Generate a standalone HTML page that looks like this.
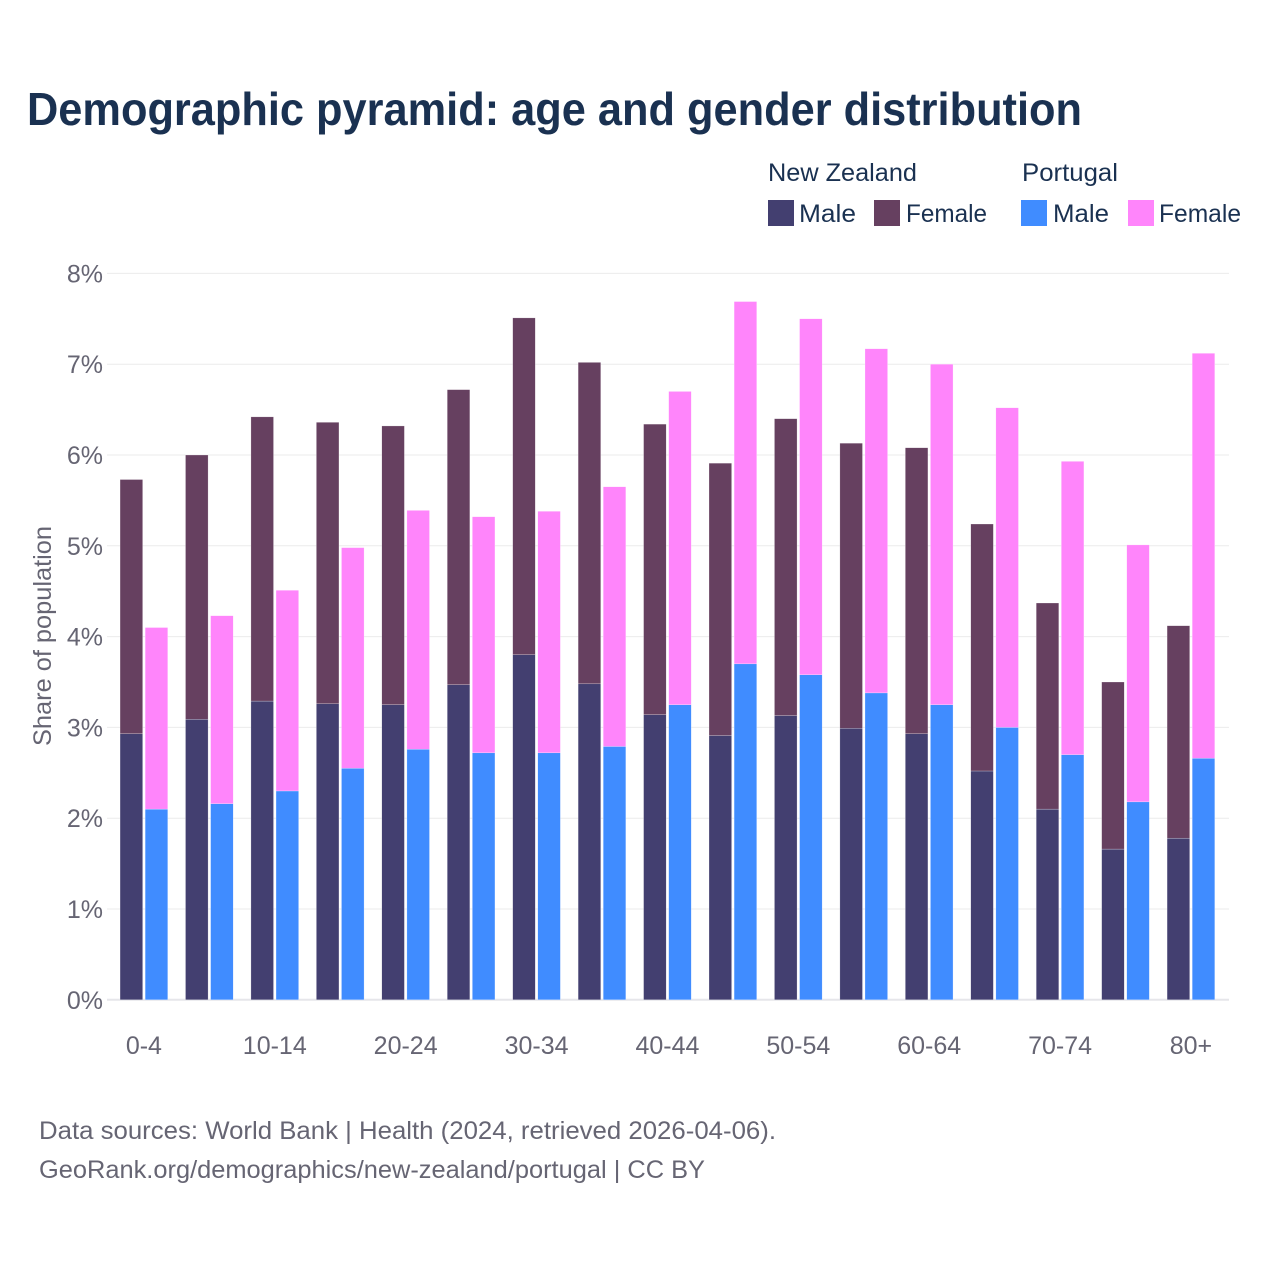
<!DOCTYPE html>
<html>
<head>
<meta charset="utf-8">
<title>Demographic pyramid: age and gender distribution</title>
<style>
html,body{margin:0;padding:0;background:#fff;width:1280px;height:1280px;overflow:hidden}
svg{display:block}
text{font-family:"Liberation Sans",sans-serif}
</style>
</head>
<body>
<svg id="chart" xmlns="http://www.w3.org/2000/svg" width="1280" height="1280" viewBox="0 0 1280 1280">
  <rect x="0" y="0" width="1280" height="1280" fill="#fff"/>
  <text x="27" y="125" font-size="46" font-weight="700" fill="#1a3151" textLength="1055" lengthAdjust="spacingAndGlyphs">Demographic pyramid: age and gender distribution</text>

  <g>
    <text x="768" y="181" font-size="25" fill="#1a3151" textLength="149" lengthAdjust="spacingAndGlyphs">New Zealand</text>
    <text x="1022" y="181" font-size="25" fill="#1a3151" textLength="96" lengthAdjust="spacingAndGlyphs">Portugal</text>
    <rect x="768" y="200" width="26" height="26" fill="#433f70"/>
    <text x="799" y="222" font-size="25" fill="#1a3151" textLength="57" lengthAdjust="spacingAndGlyphs">Male</text>
    <rect x="874" y="200" width="26" height="26" fill="#664060"/>
    <text x="906" y="222" font-size="25" fill="#1a3151" textLength="81" lengthAdjust="spacingAndGlyphs">Female</text>
    <rect x="1021" y="200" width="26" height="26" fill="#408cff"/>
    <text x="1053" y="222" font-size="25" fill="#1a3151" textLength="56" lengthAdjust="spacingAndGlyphs">Male</text>
    <rect x="1128" y="200" width="26" height="26" fill="#ff85fb"/>
    <text x="1159" y="222" font-size="25" fill="#1a3151" textLength="82" lengthAdjust="spacingAndGlyphs">Female</text>
  </g>

  <g id="grid"></g>
  <g id="yticks"></g>
  <g id="bars"></g>
  <g id="xticks"></g>

  <text transform="translate(51,746) rotate(-90)" x="0" y="0" font-size="25" fill="#666573" textLength="220" lengthAdjust="spacingAndGlyphs">Share of population</text>

  <text x="39" y="1139" font-size="25" fill="#666573" textLength="737" lengthAdjust="spacingAndGlyphs">Data sources: World Bank | Health (2024, retrieved 2026-04-06).</text>
  <text x="39" y="1178" font-size="25" fill="#666573" textLength="666" lengthAdjust="spacingAndGlyphs">GeoRank.org/demographics/new-zealand/portugal | CC BY</text>
</svg>
<script>
const categories = ["0-4","5-9","10-14","15-19","20-24","25-29","30-34","35-39","40-44","45-49","50-54","55-59","60-64","65-69","70-74","75-79","80+"];
const yTickValues = [0,1,2,3,4,5,6,7,8];
const nzMale = [2.93,3.09,3.29,3.26,3.25,3.47,3.80,3.48,3.14,2.91,3.13,2.99,2.93,2.52,2.10,1.66,1.78];
const nzFemale = [2.80,2.91,3.13,3.10,3.07,3.25,3.71,3.54,3.20,3.00,3.27,3.14,3.15,2.72,2.27,1.84,2.34];
const ptMale = [2.10,2.16,2.30,2.55,2.76,2.72,2.72,2.79,3.25,3.70,3.58,3.38,3.25,3.00,2.70,2.18,2.66];
const ptFemale = [2.00,2.07,2.21,2.43,2.63,2.60,2.66,2.86,3.45,3.99,3.92,3.79,3.75,3.52,3.23,2.83,4.46];

const NS = "http://www.w3.org/2000/svg";
const Y0 = 999.8, PX_PER_UNIT = 90.8;
const FIRST_CENTER = 143.9, BAND = 65.44, BAR_W = 22.6, BAR_GAP = 2.5;
const y = v => Y0 - v * PX_PER_UNIT;
const xCenter = i => FIRST_CENTER + i * BAND;

function make(tag, attrs, parent) {
  const el = document.createElementNS(NS, tag);
  for (const k in attrs) el.setAttribute(k, attrs[k]);
  parent.appendChild(el);
  return el;
}

const gridG = document.getElementById("grid");
const yTicksG = document.getElementById("yticks");
yTickValues.forEach(v => {
  const line = make("line", {x1:107, x2:1229, y1:y(v), y2:y(v), stroke: v === 0 ? "#e6e6ea" : "#ebebeb", "stroke-width": v === 0 ? 2 : 1}, gridG);
  
  
  const t = make("text", {x:103, y:y(v) + 9, "font-size":25, fill:"#666573", "text-anchor":"end"}, yTicksG);
  
  
  t.textContent = v + "%";
});

const barsG = document.getElementById("bars");
function drawBar(x, base, value, fill, name) {
  const r = make("rect", {x:x, y:y(base + value), width:BAR_W, height:value * PX_PER_UNIT, fill:fill, stroke:"#ffffff", "stroke-width":0.4, "stroke-opacity":0.6}, barsG);
  
  
}
categories.forEach((c, i) => {
  const left = xCenter(i) - BAR_W - BAR_GAP / 2;
  const right = xCenter(i) + BAR_GAP / 2;
  drawBar(left, 0, nzMale[i], "#433f70", "bar-nz-male");
  drawBar(left, nzMale[i], nzFemale[i], "#664060", "bar-nz-female");
  drawBar(right, 0, ptMale[i], "#408cff", "bar-pt-male");
  drawBar(right, ptMale[i], ptFemale[i], "#ff85fb", "bar-pt-female");
});

const xTicksG = document.getElementById("xticks");
categories.forEach((c, i) => {
  if (i % 2 !== 0) return;
  const t = make("text", {x:xCenter(i), y:1054, "font-size":25, fill:"#666573", "text-anchor":"middle"}, xTicksG);
  
  
  t.textContent = c;
});
</script>
</body>
</html>
